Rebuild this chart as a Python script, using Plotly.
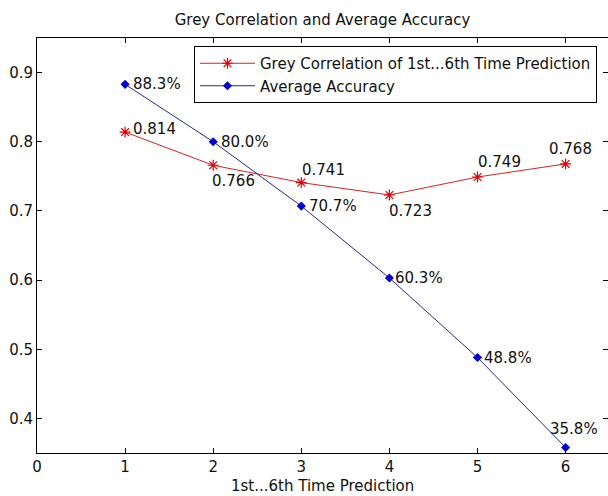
import plotly.graph_objects as go

# ---- data ----
steps = [1, 2, 3, 4, 5, 6]
grey_corr = [0.814, 0.766, 0.741, 0.723, 0.749, 0.768]
avg_acc = [0.883, 0.800, 0.707, 0.603, 0.488, 0.358]
x_ticks = [0, 1, 2, 3, 4, 5, 6]
y_ticks = [0.4, 0.5, 0.6, 0.7, 0.8, 0.9]
title_text = "Grey Correlation and Average Accuracy"
x_title = "1st...6th Time Prediction"
name_corr = "Grey Correlation of 1st...6th Time Prediction"
name_acc = "Average Accuracy"

# ---- label placement (pixel shifts) ----
corr_shift = [(6, 3), (-3, -16), (-1, 13), (-2, -16), (-2, 15), (-19, 15)]
acc_shift = [(6, 0), (6, 0), (6, 0), (4, 0), (4, 0), (-18, 18)]

W, H = 608, 496
ML, MR, MT, MB = 37, 0, 38, 43
PW = W - ML - MR
PH = H - MT - MB

FONT = "DejaVu Sans"
fs = 15

fig = go.Figure()
fig.add_trace(go.Scatter(
    x=steps, y=grey_corr, name=name_corr, mode="lines+markers",
    line=dict(color="#d42424", width=1),
    marker=dict(symbol="asterisk-open", size=9, color="#e00000",
                line=dict(color="#e00000", width=1.2)),
))
fig.add_trace(go.Scatter(
    x=steps, y=avg_acc, name=name_acc, mode="lines+markers",
    line=dict(color="#28288e", width=1),
    marker=dict(symbol="diamond", size=7, color="#0000d0",
                line=dict(width=0)),
))

annotations = []
for xv, yv, (dx, dy) in zip(steps, grey_corr, corr_shift):
    annotations.append(dict(
        x=xv, y=yv, xref="x", yref="y", text=f"{yv:.3f}", showarrow=False,
        xanchor="left", yanchor="middle", xshift=dx, yshift=dy,
        font=dict(family=FONT, size=fs, color="#111")))
for xv, yv, (dx, dy) in zip(steps, avg_acc, acc_shift):
    annotations.append(dict(
        x=xv, y=yv, xref="x", yref="y", text=f"{yv*100:.1f}%", showarrow=False,
        xanchor="left", yanchor="middle", xshift=dx, yshift=dy,
        font=dict(family=FONT, size=fs, color="#111")))

annotations.append(dict(
    x=0.5, y=-(486 - (H - MB)) / PH, xref="paper", yref="paper",
    text=x_title, showarrow=False, xanchor="center", yanchor="middle",
    font=dict(family=FONT, size=fs, color="#111")))

fig.update_layout(
    width=W, height=H,
    margin=dict(l=ML, r=MR, t=MT, b=MB, pad=0),
    paper_bgcolor="white", plot_bgcolor="white",
    font=dict(family=FONT, size=fs, color="#111"),
    title=dict(text=title_text, x=0.5, xref="paper", xanchor="center",
               y=1 - 20 / H, yref="container", yanchor="middle",
               font=dict(family=FONT, size=fs, color="#111")),
    showlegend=True,
    legend=dict(x=(597 - ML) / PW, xanchor="right",
                y=1 - (46 - MT) / PH, yanchor="top",
                itemwidth=55,
                bordercolor="black", borderwidth=1, bgcolor="white",
                font=dict(family=FONT, size=fs, color="#111")),
    annotations=annotations,
    xaxis=dict(range=[0, (W - ML - MR) / 88.1], tickmode="array",
               tickvals=x_ticks, ticktext=[str(t) for t in x_ticks],
               ticks="inside", ticklen=5, tickcolor="black",
               showline=True, linecolor="black", linewidth=1, mirror="ticks",
               showgrid=False, zeroline=False),
    yaxis=dict(range=[0.35, 0.95], tickmode="array",
               tickvals=y_ticks, ticktext=[f"{t:.1f}" for t in y_ticks],
               ticks="inside", ticklen=5, tickcolor="black",
               showline=True, linecolor="black", linewidth=1, mirror="ticks",
               showgrid=False, zeroline=False),
)

fig.write_html("out.html",
               config={"displayModeBar": False, "staticPlot": True},
               post_script="document.body.style.margin='0';"
                           "document.body.style.overflow='hidden';")
